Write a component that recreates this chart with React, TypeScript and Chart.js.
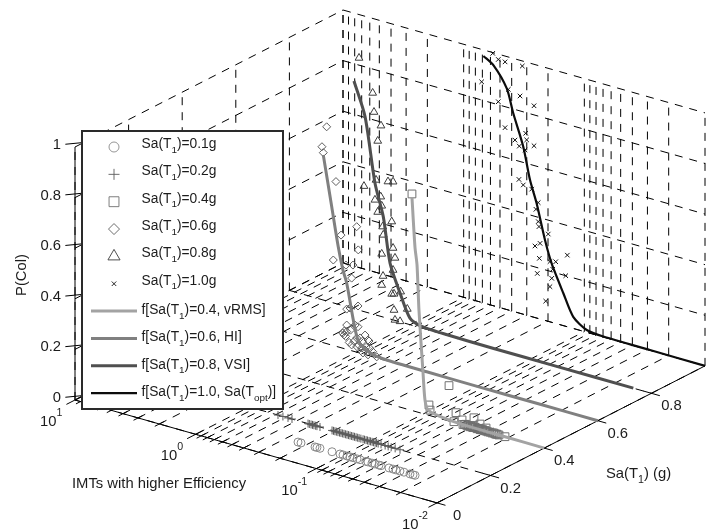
import React, { useEffect, useRef } from "react";
import { Chart, registerables } from "chart.js";
import { drawPoint } from "chart.js/helpers";

Chart.register(...registerables);

// ---------- data: log10(IMT) and P(Col) ----------
const pTicks = [0, 0.2, 0.4, 0.6, 0.8, 1];
const saTicks = [0, 0.2, 0.4, 0.6, 0.8, 1];
const saTickLabels = ["0", "0.2", "0.4", "0.6", "0.8"];
const pTickLabels = ["0", "0.2", "0.4", "0.6", "0.8", "1"];
const decades = [1, 0, -1, -2];
const minorMultipliers = [2, 3, 4, 5, 6, 7, 8, 9];

const circleLog = [-0.626, -0.651, -0.767, -0.783, -0.808, -0.908, -0.974, -0.999, -1.032, -1.057, -1.082, -1.115, -1.14, -1.189, -1.206, -1.239, -1.264, -1.297, -1.314, -1.38, -1.413, -1.438, -1.471, -1.504, -1.554, -1.579, -1.596];
const plusLog = [-0.238, -0.279, -0.321, -0.354, -0.487, -0.498, -0.512, -0.524, -0.536, -0.55, -0.561, -0.586, -0.686, -0.698, -0.71, -0.722, -0.735, -0.748, -0.76, -0.772, -0.785, -0.798, -0.81, -0.822, -0.835, -0.848, -0.86, -0.872, -0.885, -0.898, -0.91, -0.925, -0.943, -0.955, -0.968, -0.98, -0.993, -1.005, -1.018, -1.03, -1.043, -1.055, -1.068, -1.092, -1.126, -1.151, -1.176, -1.209, -1.249];

const squareLog = [-0.904, -1.211, -1.045, -1.054, -1.269, -1.319, -1.252, -1.418, -1.468, -1.518, -1.327, -1.36, -1.385, -1.41, -1.443, -1.468, -1.501, -1.534, -1.567, -1.592, -1.625, -1.675, -1.34, -1.35, -1.37, -1.39, -1.4, -1.42, -1.43, -1.45, -1.46, -1.48, -1.49, -1.51, -1.52, -1.55, -1.58, -1.6, -1.61];
const squareP = [0.856, 0.14, 0.041, 0.022, 0.041, 0.019, 0.003, 0.041, 0.023, 0.014, 0.002, 0.001, 0.001, 0.001, 0.001, 0.001, 0.001, 0.001, 0.001, 0.001, 0.001, 0.001, 0.004, 0.006, 0.003, 0.005, 0.002, 0.006, 0.004, 0.003, 0.005, 0.002, 0.004, 0.003, 0.002, 0.002, 0.003, 0.001, 0.002];

const diamondLog = [0.247, 0.286, 0.275, 0.17, -0.002, 0.128, -0.015, 0.192, 0.087, 0.029, 0.054, -0.013, 0.081, 0.114, 0.081, 0.103, -0.013, -0.071, -0.002, -0.096, 0.04, -0.004, -0.043, -0.071, -0.054, -0.096, -0.104, -0.134, -0.168, 0.04, 0.081, 0.012, 0.06, 0.02, -0.02, -0.03, -0.05, 0.05, -0.08, 0.1, 0.09, -0.11];
const diamondP = [0.857, 0.773, 0.751, 0.651, 0.496, 0.445, 0.406, 0.338, 0.332, 0.34, 0.167, 0.184, 0.096, 0.06, 0.07, 0.054, 0.102, 0.077, 0.056, 0.061, 0.023, 0.022, 0.022, 0.018, 0.004, 0.002, 0.058, 0.02, 0.004, 0.287, 0.159, 0.105, 0.03, 0.04, 0.03, 0.06, 0.05, 0.08, 0.03, 0.07, 0.05, 0.03];

const triangleLog = [0.423, 0.31, 0.299, 0.241, 0.268, 0.382, 0.282, 0.183, 0.141, 0.291, 0.243, 0.235, 0.268, 0.227, 0.222, 0.235, 0.152, 0.141, 0.125, 0.224, 0.235, 0.141, 0.152, 0.133, 0.078, 0.133, 0.023, 0.125, 0.083];
const triangleP = [0.997, 0.874, 0.8, 0.754, 0.69, 0.496, 0.534, 0.541, 0.546, 0.454, 0.473, 0.438, 0.409, 0.357, 0.325, 0.248, 0.387, 0.284, 0.247, 0.162, 0.125, 0.197, 0.101, 0.104, 0.12, 0.04, 0.059, 0.002, 0.002];

const crossLog = [-0.241, -0.287, -0.343, -0.486, -0.149, -0.37, -0.467, -0.287, -0.583, -0.343, -0.514, -0.425, -0.461, -0.522, -0.583, -0.508, -0.458, -0.494, -0.564, -0.618, -0.599, -0.618, -0.624, -0.701, -0.591, -0.633, -0.627, -0.859, -0.715, -0.763, -0.61, -0.846, -0.738, -0.73, -0.715, -0.68];
const crossP = [0.997, 0.979, 0.977, 0.98, 0.872, 0.872, 0.859, 0.812, 0.836, 0.717, 0.718, 0.679, 0.66, 0.693, 0.678, 0.651, 0.528, 0.511, 0.504, 0.458, 0.429, 0.383, 0.364, 0.345, 0.283, 0.299, 0.239, 0.283, 0.238, 0.244, 0.177, 0.2, 0.211, 0.174, 0.139, 0.077];

const fit04Log = [-0.904, -0.929, -0.946, -0.962, -0.996, -1.012, -1.037, -1.136, -1.244, -1.36, -1.675, -2];
const fit04P = [0.844, 0.649, 0.581, 0.405, 0.16, 0.056, 0.02, 0.008, 0.003, 0.001, 0.001, 0];
const fit06Log = [0.275, 0.205, 0.151, 0.112, 0.081, 0.026, -0.013, -0.079, -0.168, -0.303, -0.582, -1, -1.5, -2];
const fit06P = [0.742, 0.547, 0.396, 0.309, 0.262, 0.123, 0.049, 0.019, 0.006, 0.002, 0.001, 0, 0, 0];
const fit08Log = [0.465, 0.373, 0.291, 0.222, 0.166, 0.083, 0.001, -0.096, -0.273, -0.7, -1.2, -1.85];
const fit08P = [0.9, 0.772, 0.521, 0.397, 0.221, 0.114, 0.026, 0.006, 0.002, 0, 0, 0];
const fit10Log = [-0.163, -0.246, -0.357, -0.411, -0.494, -0.55, -0.605, -0.674, -0.729, -0.826, -0.908, -1.02, -1.157, -1.544, -2];
const fit10P = [0.976, 0.951, 0.874, 0.783, 0.662, 0.538, 0.453, 0.318, 0.233, 0.128, 0.046, 0.009, 0.002, 0.001, 0];

const markerSeries = [
  { sa: 0.1, label: "0.1g", log: circleLog, p: circleLog.map(() => 0), style: "circle", r: 4, lr: 5, color: "#8a8a8a" },
  { sa: 0.2, label: "0.2g", log: plusLog, p: plusLog.map(() => 0), style: "cross", r: 4, lr: 5.5, color: "#5c5c5c" },
  { sa: 0.4, label: "0.4g", log: squareLog, p: squareP, style: "rect", r: 5.5, lr: 7, color: "#707070" },
  { sa: 0.6, label: "0.6g", log: diamondLog, p: diamondP, style: "rectRot", r: 4, lr: 5.5, color: "#5c5c5c" },
  { sa: 0.8, label: "0.8g", log: triangleLog, p: triangleP, style: "triangle", r: 4.5, lr: 7, color: "#3c3c3c" },
  { sa: 1.0, label: "1.0g", log: crossLog, p: crossP, style: "crossRot", r: 3.2, lr: 3.2, color: "#111111" },
];
const fitSeries = [
  { sa: 0.4, log: fit04Log, p: fit04P, color: "#a3a3a3", width: 3, text: "0.4, vRMS]" },
  { sa: 0.6, log: fit06Log, p: fit06P, color: "#808080", width: 3, text: "0.6, HI]" },
  { sa: 0.8, log: fit08Log, p: fit08P, color: "#4f4f4f", width: 3, text: "0.8, VSI]" },
  { sa: 1.0, log: fit10Log, p: fit10P, color: "#0c0c0c", width: 2.2, text: "1.0, Sa(T" },
];

// ---------- orthographic projection of the 3-D axes ----------
const ORIGIN = { x: 75, y: 400 };
const PER_DECADE = { x: 120.67, y: 34.3 };
const PER_SA = { x: 268, y: -137 };
const PER_P = 253;
const project = (log: number, sa: number, p: number) => {
  const d = 1 - log;
  return {
    x: ORIGIN.x + PER_DECADE.x * d + PER_SA.x * sa,
    y: ORIGIN.y + PER_DECADE.y * d + PER_SA.y * sa - PER_P * p,
  };
};

const FONT = '"Liberation Sans", Arial, sans-serif';
const TEXT = "#1c1c1c";
const DASH = [8, 7];

const gridLine = (a: any, b: any) => ({
  type: "line" as const,
  data: [a, b],
  borderColor: "#000",
  borderWidth: 1,
  borderDash: DASH,
  pointRadius: 0,
  order: 100,
});
const solidLine = (a: any, b: any, w = 1) => ({
  type: "line" as const,
  data: [a, b],
  borderColor: "#000",
  borderWidth: w,
  pointRadius: 0,
  order: 90,
});

const allLogs: { v: number; major: boolean }[] = [];
decades.forEach((e) => {
  allLogs.push({ v: e, major: true });
  if (e > -2) minorMultipliers.forEach((m) => allLogs.push({ v: e - 1 + Math.log10(m), major: false }));
});

function buildDatasets() {
  const ds: any[] = [];
  // floor
  allLogs.forEach(({ v }) => ds.push(gridLine(project(v, 0, 0), project(v, 1, 0))));
  saTicks.forEach((s) => ds.push(gridLine(project(1, s, 0), project(-2, s, 0))));
  // wall at 10^1
  saTicks.forEach((s) => ds.push(gridLine(project(1, s, 0), project(1, s, 1))));
  pTicks.forEach((p) => ds.push(gridLine(project(1, 0, p), project(1, 1, p))));
  // wall at Sa = 1
  allLogs.forEach(({ v }) => ds.push(gridLine(project(v, 1, 0), project(v, 1, 1))));
  pTicks.forEach((p) => ds.push(gridLine(project(1, 1, p), project(-2, 1, p))));
  // axis lines
  ds.push(solidLine(project(1, 0, 0), project(1, 0, 1)));
  ds.push(solidLine(project(1, 0, 0), project(-2, 0, 0)));
  ds.push(solidLine(project(-2, 0, 0), project(-2, 1, 0)));
  // ticks
  allLogs.forEach(({ v, major }) => {
    const span = major ? 0.032 : 0.017;
    ds.push(solidLine(project(v, -span, 0), project(v, span, 0)));
  });
  saTicks.slice(0, 5).forEach((s) => ds.push(solidLine(project(-2.07, s, 0), project(-1.93, s, 0))));
  pTicks.forEach((p) => ds.push(solidLine(project(1.08, 0, p), project(1, 0.033, p))));
  // markers
  markerSeries.forEach((m) =>
    ds.push({
      type: "scatter" as const,
      data: m.log.map((l, i) => project(l, m.sa, m.p[i])),
      showLine: false,
      pointStyle: m.style,
      pointRadius: m.r,
      pointBackgroundColor: "rgba(0,0,0,0)",
      pointBorderColor: m.color,
      pointBorderWidth: 1,
      order: 50,
    }),
  );
  // fitted curves
  fitSeries.forEach((f) =>
    ds.push({
      type: "line" as const,
      data: f.log.map((l, i) => project(l, f.sa, f.p[i])),
      borderColor: f.color,
      borderWidth: f.width,
      tension: 0.25,
      pointRadius: 0,
      order: 40,
    }),
  );
  return ds;
}

function runs(ctx: CanvasRenderingContext2D, x: number, y: number, parts: [string, "n" | "sub" | "sup"][], size: number) {
  let cx = x;
  ctx.textAlign = "left";
  ctx.textBaseline = "middle";
  parts.forEach(([t, kind]) => {
    const s = kind === "n" ? size : size * 0.72;
    ctx.font = `${s}px ${FONT}`;
    const dy = kind === "sub" ? size * 0.42 : kind === "sup" ? -size * 0.6 : 0;
    ctx.fillText(t, cx, y + dy);
    cx += ctx.measureText(t).width;
  });
}

const overlay = {
  id: "overlay",
  afterDatasetsDraw(chart: any) {
    const ctx: CanvasRenderingContext2D = chart.ctx;
    ctx.save();
    ctx.fillStyle = TEXT;
    const size = 14.8;
    ctx.font = `${size}px ${FONT}`;
    ctx.textBaseline = "middle";

    // P axis labels
    ctx.textAlign = "right";
    pTicks.forEach((p, i) => ctx.fillText(pTickLabels[i], 61, project(1, 0, p).y - 2));
    // Sa axis labels
    ctx.textAlign = "center";
    saTickLabels.forEach((t, i) => {
      const a = project(-2, saTicks[i], 0);
      ctx.fillText(t, a.x + 20, a.y + 13);
    });
    // log axis labels
    decades.forEach((e) => {
      const a = project(e, 0, 0);
      runs(ctx, a.x - 35, a.y + 22, [["10", "n"], [String(e), "sup"]], size);
    });
    // axis titles
    ctx.font = `${size}px ${FONT}`;
    ctx.textAlign = "left";
    ctx.fillText("IMTs with higher Efficiency", 72, 484);
    runs(ctx, 606, 474, [["Sa(T", "n"], ["1", "sub"], [") (g)", "n"]], size);
    ctx.save();
    ctx.translate(22, 275);
    ctx.rotate(-Math.PI / 2);
    ctx.textAlign = "center";
    ctx.font = `${size}px ${FONT}`;
    ctx.fillText("P(Col)", 0, 0);
    ctx.restore();

    // legend
    const L = 82, T = 131, R = 283, B = 409;
    ctx.fillStyle = "#fff";
    ctx.fillRect(L, T, R - L, B - T);
    ctx.strokeStyle = "#2a2a2a";
    ctx.lineWidth = 2;
    ctx.strokeRect(L, T, R - L, B - T);
    const textX = 141.5;
    const rowY = (i: number) => 147 + i * 27.35;
    const lsize = 13.8;
    markerSeries.forEach((m, i) => {
      ctx.strokeStyle = m.color;
      ctx.fillStyle = "#fff";
      ctx.lineWidth = 0.9;
      drawPoint(ctx, { pointStyle: m.style as any, radius: m.lr, rotation: 0, borderWidth: 0.9 } as any, 114, rowY(i));
      ctx.fillStyle = TEXT;
      runs(ctx, textX, rowY(i) - 3, [["Sa(T", "n"], ["1", "sub"], [")=" + m.label, "n"]], lsize);
    });
    fitSeries.forEach((f, j) => {
      const y = rowY(6 + j);
      ctx.strokeStyle = f.color;
      ctx.lineWidth = f.width;
      ctx.beginPath();
      ctx.moveTo(91, y);
      ctx.lineTo(137, y);
      ctx.stroke();
      ctx.fillStyle = TEXT;
      const parts: [string, "n" | "sub" | "sup"][] = [["f[Sa(T", "n"], ["1", "sub"], [")=" + f.text, "n"]];
      if (j === 3) parts.push(["opt", "sub"], [")]", "n"]);
      runs(ctx, textX, y - 1, parts, lsize);
    });
    ctx.restore();
  },
};

export default function App() {
  const ref = useRef<HTMLCanvasElement>(null);
  useEffect(() => {
    document.body.style.margin = "0";
    const chart = new Chart(ref.current!, {
      type: "scatter",
      data: { datasets: buildDatasets() },
      options: {
        animation: false,
        responsive: false,
        layout: { padding: 0, autoPadding: false },
        plugins: { legend: { display: false }, tooltip: { enabled: false } },
        scales: {
          x: { type: "linear", min: 0, max: 717, display: false },
          y: { type: "linear", min: 0, max: 529, reverse: true, display: false },
        },
      },
      plugins: [overlay],
    });
    return () => chart.destroy();
  }, []);
  return <canvas ref={ref} width={717} height={529} style={{ display: "block", background: "#fff" }} />;
}
